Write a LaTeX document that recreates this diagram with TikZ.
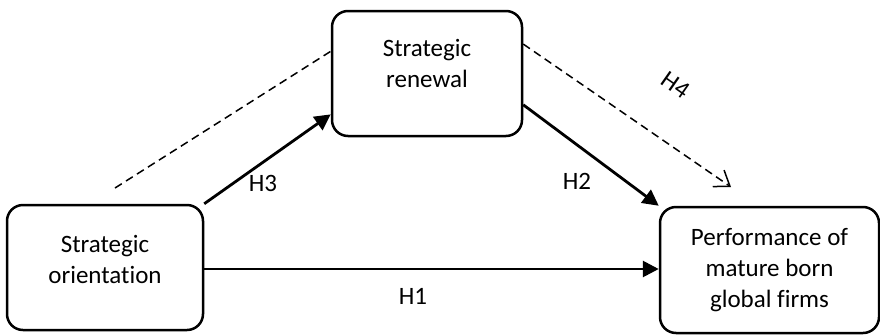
\documentclass[tikz,border=0pt]{standalone}
\usepackage{fontspec}
\setmainfont{Carlito}[RawFeature=-liga]
\usetikzlibrary{arrows.meta}

\begin{document}
\begin{tikzpicture}[x=1pt, y=-1pt, font=\fontsize{25}{31}\selectfont,
  box node/.style={rectangle, rounded corners=16pt, draw, line width=2.5pt, fill=white, align=center, inner sep=0pt},
  path arrow/.style={line width=2.8pt, -{Triangle[length=16pt,width=16pt]}},
  guess line/.style={dash pattern=on 8pt off 5pt, line width=1.5pt}]

          \useasboundingbox (0,0) rectangle (880,335);

          \node[box node, minimum width=196pt, minimum height=125pt] (SO) at (105,267.5) {Strategic\\orientation\\[-14pt]\mbox{}};
          \node[box node, minimum width=190pt, minimum height=125pt] (SR) at (427,73.5) {Strategic\\renewal\\[-10pt]\mbox{}};
          \node[box node, minimum width=219pt, minimum height=126pt] (PERF) at (769.5,270) {Performance of\\mature born\\global firms};

          \coordinate (d1) at (115,188);
          \coordinate (d2) at (731,187);

          \draw[path arrow] (SO.east |- 0,269) -- (PERF.west |- 0,269);
          \draw[path arrow] (SO.north east) -- (SR.203);
          \draw[path arrow] (SR.-18) -- (PERF.north west);

          \draw[guess line] (d1) -- (SR.167);
          \draw[guess line, -{Straight Barb[length=14pt,width=20pt,line width=1.5pt]}] (SR.17) -- (d2);

          \node (h1) at (413,296) {H1};
          \node (h3) at (263,183.5) {H3};
          \node (h2) at (577,181) {H2};
          \node[rotate=-35] (h4) at (676,85) {H4};
        \end{tikzpicture}
\end{document}
